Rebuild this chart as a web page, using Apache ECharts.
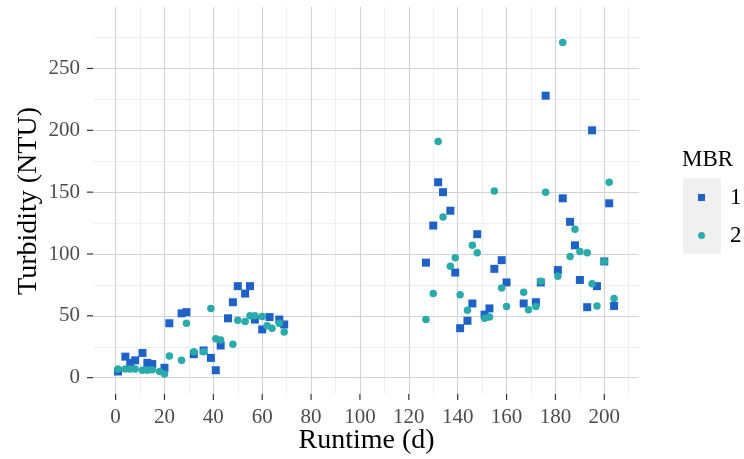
<!DOCTYPE html>
<html>
<head>
<meta charset="utf-8">
<script src="https://cdn.jsdelivr.net/npm/echarts@6/dist/echarts.min.js"></script>
<style>
  html, body { margin: 0; padding: 0; background: #ffffff; }
  #chart { width: 744px; height: 459px; }
</style>
</head>
<body>
<div id="chart"></div>
<script>
// Turbidity readings per membrane bioreactor (runtime in days, turbidity in NTU)
const runtimeMBR1 = [1, 4, 6, 8, 11, 13, 15, 20, 22, 27, 29, 32, 36, 39, 41, 43, 46, 48, 50, 53, 55, 57, 60, 63, 67, 69,
  127, 130, 132, 134, 137, 139, 141, 144, 146, 148, 151, 153, 155, 158, 160, 167, 172, 174, 176, 181, 183, 186, 188, 190, 193, 195, 197, 200, 202, 204];
const turbidityMBR1 = [5, 17, 12, 14, 20, 12, 11, 8, 44, 52, 53, 19, 22, 16, 6, 26, 48, 61, 74, 68, 74, 47, 39, 49, 47, 43,
  93, 123, 158, 150, 135, 85, 40, 46, 60, 116, 51, 56, 88, 95, 77, 60, 61, 77, 228, 87, 145, 126, 107, 79, 57, 200, 74, 94, 141, 58];

const runtimeMBR2 = [1, 4, 6, 8, 11, 13, 15, 18, 20, 22, 27, 29, 32, 36, 39, 41, 43, 48, 50, 53, 55, 57, 60, 62, 64, 67, 69,
  127, 130, 132, 134, 137, 139, 141, 144, 146, 148, 151, 153, 155, 158, 160, 167, 169, 172, 174, 176, 181, 183, 186, 188, 190, 193, 195, 197, 200, 202, 204];
const turbidityMBR2 = [7, 7, 7, 7, 6, 6, 6.5, 5, 3, 17.5, 14, 44, 21, 21, 56, 31.5, 30.5, 27, 46.5, 45.5, 50, 50, 49.5, 42, 40, 44, 37,
  47, 68, 191, 130, 90, 97, 67, 54.5, 107, 101, 48, 49, 151, 72.5, 57.5, 69, 55, 57.5, 78, 150, 82, 271, 98, 120, 102, 101, 76, 58, 94, 158, 64];

const runtimeTicks = [0, 20, 40, 60, 80, 100, 120, 140, 160, 180, 200];
const runtimeMinor = [10, 30, 50, 70, 90, 110, 130, 150, 170, 190, 210];
const turbidityTicks = [0, 50, 100, 150, 200, 250];
const turbidityMinor = [25, 75, 125, 175, 225, 275];

const groupNames = ['1', '2'];
const xTitle = 'Runtime (d)';
const yTitle = 'Turbidity (NTU)';
const legendTitle = 'MBR';

const pairs = (xs, ys) => xs.map((x, i) => [x, ys[i]]);

const FONT = "'Liberation Serif', 'Times New Roman', serif";
const MAJOR = '#d2d2d2';
const MINOR = '#efefef';
const TICK = '#333333';
const TICK_LEN = 6;

const chart = echarts.init(document.getElementById('chart'), null, { renderer: 'canvas' });

const gridLines = [
  ...runtimeMinor.map(v => ({ xAxis: v, lineStyle: { color: MINOR, width: 1, type: 'solid' } })),
  ...turbidityMinor.map(v => ({ yAxis: v, lineStyle: { color: MINOR, width: 1, type: 'solid' } })),
  ...runtimeTicks.map(v => ({ xAxis: v, lineStyle: { color: MAJOR, width: 1.1, type: 'solid' } })),
  ...turbidityTicks.map(v => ({ yAxis: v, lineStyle: { color: MAJOR, width: 1.1, type: 'solid' } }))
];

// short outward tick marks at the labelled values, placed via the axis scales
function xTickItem(params, api) {
  const cs = params.coordSys;
  const x = api.coord([api.value(0), 0])[0];
  const y = cs.y + cs.height;
  return { type: 'line', shape: { x1: x, y1: y, x2: x, y2: y + TICK_LEN }, style: { stroke: TICK, lineWidth: 1.2 } };
}
function yTickItem(params, api) {
  const cs = params.coordSys;
  const y = api.coord([0, api.value(1)])[1];
  const x = cs.x;
  return { type: 'line', shape: { x1: x - TICK_LEN, y1: y, x2: x, y2: y }, style: { stroke: TICK, lineWidth: 1.2 } };
}

chart.setOption({
  animation: false,
  backgroundColor: '#ffffff',
  grid: { left: 93, right: 105, top: 7, bottom: 65, containLabel: false },
  xAxis: {
    type: 'value',
    min: -9.25,
    max: 214.2,
    axisLine: { show: false },
    axisTick: { show: false },
    axisLabel: { customValues: runtimeTicks, margin: 13, fontFamily: FONT, fontSize: 21, color: '#4d4d4d' },
    splitLine: { show: false },
    minorSplitLine: { show: false }
  },
  yAxis: {
    type: 'value',
    min: -13.2,
    max: 299.7,
    axisLine: { show: false },
    axisTick: { show: false },
    axisLabel: { customValues: turbidityTicks, margin: 13, fontFamily: FONT, fontSize: 21, color: '#4d4d4d' },
    splitLine: { show: false },
    minorSplitLine: { show: false }
  },
  legend: [
    {
      data: [groupNames[0]], orient: 'vertical', left: 698, top: 186, padding: 0,
      itemWidth: 7, itemHeight: 7, itemGap: 0,
      textStyle: { fontFamily: FONT, fontSize: 23, color: '#000000', padding: [0, 0, 0, 20] },
      selectedMode: false
    },
    {
      data: [groupNames[1]], orient: 'vertical', left: 698, top: 224, padding: 0,
      itemWidth: 7, itemHeight: 7, itemGap: 0,
      textStyle: { fontFamily: FONT, fontSize: 23, color: '#000000', padding: [0, 0, 0, 20] },
      selectedMode: false
    }
  ],
  graphic: [
    { type: 'rect', left: 683, top: 178, shape: { width: 38, height: 76 }, style: { fill: '#f0f0f0' }, z: -1, silent: true },
    { type: 'text', left: 682, top: 148, style: { text: legendTitle, fontFamily: FONT, fontSize: 23, fill: '#000000' }, silent: true },
    { type: 'text', x: 366.5, y: 441, silent: true,
      style: { text: xTitle, fontFamily: FONT, fontSize: 28, fill: '#000000', align: 'center', verticalAlign: 'middle' } },
    { type: 'text', x: 29, y: 201, rotation: Math.PI / 2, silent: true,
      style: { text: yTitle, fontFamily: FONT, fontSize: 28, fill: '#000000', align: 'center', verticalAlign: 'middle' } }
  ],
  series: [
    {
      // panel grid lines, kept on the bottom layer
      name: 'grid',
      type: 'line',
      data: [],
      zlevel: 0,
      z: 1,
      silent: true,
      markLine: {
        silent: true,
        symbol: ['none', 'none'],
        label: { show: false },
        animation: false,
        data: gridLines
      }
    },
    {
      name: 'xTicks',
      type: 'custom',
      clip: false,
      silent: true,
      zlevel: 0,
      z: 2,
      data: runtimeTicks.map(v => [v, 0]),
      renderItem: xTickItem
    },
    {
      name: 'yTicks',
      type: 'custom',
      clip: false,
      silent: true,
      zlevel: 0,
      z: 2,
      data: turbidityTicks.map(v => [0, v]),
      renderItem: yTickItem
    },
    {
      name: groupNames[0],
      type: 'scatter',
      symbol: 'rect',
      symbolSize: 8,
      zlevel: 1,
      z: 3,
      itemStyle: { color: '#1e62c8', opacity: 1 },
      data: pairs(runtimeMBR1, turbidityMBR1)
    },
    {
      name: groupNames[1],
      type: 'scatter',
      symbol: 'circle',
      symbolSize: 7.5,
      zlevel: 1,
      z: 4,
      itemStyle: { color: '#2aabab', opacity: 1 },
      data: pairs(runtimeMBR2, turbidityMBR2)
    }
  ]
});
</script>
</body>
</html>
